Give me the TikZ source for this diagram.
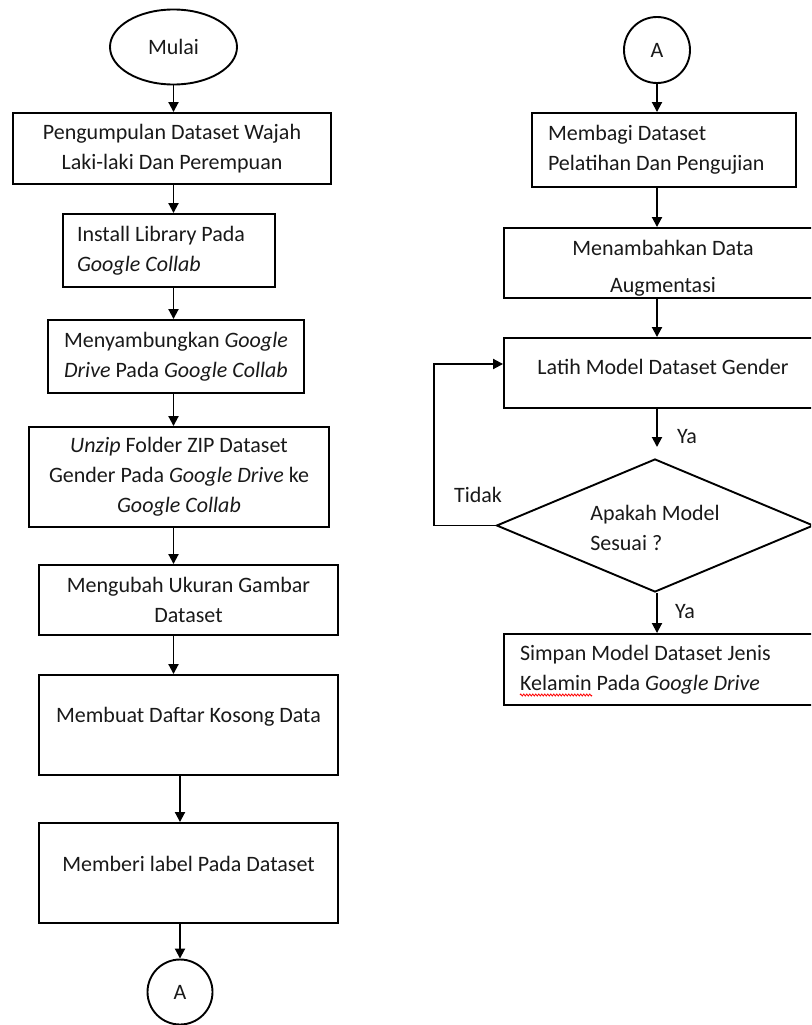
\documentclass[tikz,border=0pt]{standalone}
\usepackage{fontspec}
\setmainfont{Carlito}
\usetikzlibrary{shapes.geometric,arrows.meta,decorations.pathmorphing}
\begin{document}
\begin{tikzpicture}[x=1pt,y=-1pt,
  every node/.style={font=\fontsize{22}{30}\selectfont, text=black!90},
  box/.style={draw, line width=1.9pt, inner sep=0pt, align=center},
  lbox/.style={draw, line width=1.9pt, inner ysep=0pt, inner xsep=16pt, align=flush left},
  arr/.style={line width=1.9pt, -{Triangle[width=10pt,length=10pt]}},
  ]
\useasboundingbox (0,0) rectangle (811,1025);
\clip (0,0) rectangle (811,1025);

% left column
\node[draw, ellipse, line width=1.9pt, minimum width=127pt, minimum height=75pt, inner sep=0pt] (start) at (173.5,47) {Mulai};
\node[box, minimum width=318pt, minimum height=71pt] (b1) at (172,148.5) {Pengumpulan Dataset Wajah\\Laki-laki Dan Perempuan};
\node[lbox, inner xsep=14pt, text width=184pt, minimum height=73pt] (b2) at (169,250.5) {Install Library Pada\\\textit{Google Collab}};
\node[box, minimum width=256pt, minimum height=73pt] (b3) at (176,356.5) {Menyambungkan \textit{Google}\\\textit{Drive} Pada \textit{Google Collab}};
\node[box, minimum width=300pt, minimum height=100pt] (b4) at (179,477) {\textit{Unzip} Folder ZIP Dataset\\Gender Pada \textit{Google Drive} ke\\\textit{Google Collab}};
\node[box, minimum width=299pt, minimum height=70pt] (b5) at (188.5,600) {Mengubah Ukuran Gambar\\Dataset};
\node[box, minimum width=299pt, minimum height=100pt, label={[yshift=8pt]center:Membuat Daftar Kosong Data}] (b6) at (188.5,725) {};
\node[box, minimum width=299pt, minimum height=100pt, label={[yshift=9pt]center:Memberi label Pada Dataset}] (b7) at (188.5,873) {};
\node[draw, circle, line width=1.9pt, minimum size=65pt, inner sep=0pt] (a1) at (180,992) {A};

\draw[arr] (start.south) -- (b1.north -| start);
\draw[arr] (b1.south -| start) -- (b2.north -| start);
\draw[arr] (b2.south -| start) -- (b3.north -| start);
\draw[arr] (b3.south -| start) -- (b4.north -| start);
\draw[arr] (b4.south -| start) -- (b5.north -| start);
\draw[arr] (b5.south -| start) -- (b6.north -| start);
\draw[arr] (b6.south -| a1) -- (b7.north -| a1);
\draw[arr] (b7.south -| a1) -- (a1.north);

% right column
\node[draw, circle, line width=1.9pt, minimum size=66pt, inner sep=0pt] (a2) at (657,50) {A};
\node[lbox, text width=232pt, minimum height=74pt] (r1) at (664,150) {Membagi Dataset\\Pelatihan Dan Pengujian};
\node[box, minimum width=318pt, minimum height=70pt,
  label={[align=center, yshift=-5pt]center:Menambahkan Data\\[7pt]Augmentasi}] (r2) at (663,263) {};
\node[box, minimum width=318pt, minimum height=70pt, label={[yshift=6pt]center:Latih Model Dataset Gender}] (r3) at (663,373) {};
\node[draw, diamond, line width=1.9pt, minimum width=317pt, minimum height=133pt, inner sep=0pt,
  label={[align=left, yshift=-2.5pt]center:Apakah Model\\Sesuai ?}] (dec) at (655,525.5) {};
\node[lbox, text width=285pt, minimum height=71pt] (r4) at (662.5,669.5) {Simpan Model Dataset Jenis\\Kelamin Pada \textit{Google Drive}};

\coordinate (y1) at (657,447);
\coordinate (fb) at (434,364);
\draw[arr] (a2.south) -- (r1.north -| a2);
\draw[arr] (r1.south -| a2) -- (r2.north -| a2);
\draw[arr] (r2.south -| a2) -- (r3.north -| a2);
\draw[arr] (r3.south -| a2) -- (y1);
\draw[arr] (dec.south -| a2) -- (r4.north -| a2);
\draw[arr] (dec.west) -| (fb) -- (fb -| r3.west);

\node (ya1) at (687,437) {Ya};
\node (ya2) at (685,612) {Ya};
\node (tidak) at (478,495) {Tidak};

\draw[red, line width=0.8pt, decorate, decoration={zigzag, amplitude=1pt, segment length=3pt}] (520,695) -- (592,695);
\end{tikzpicture}
\end{document}
